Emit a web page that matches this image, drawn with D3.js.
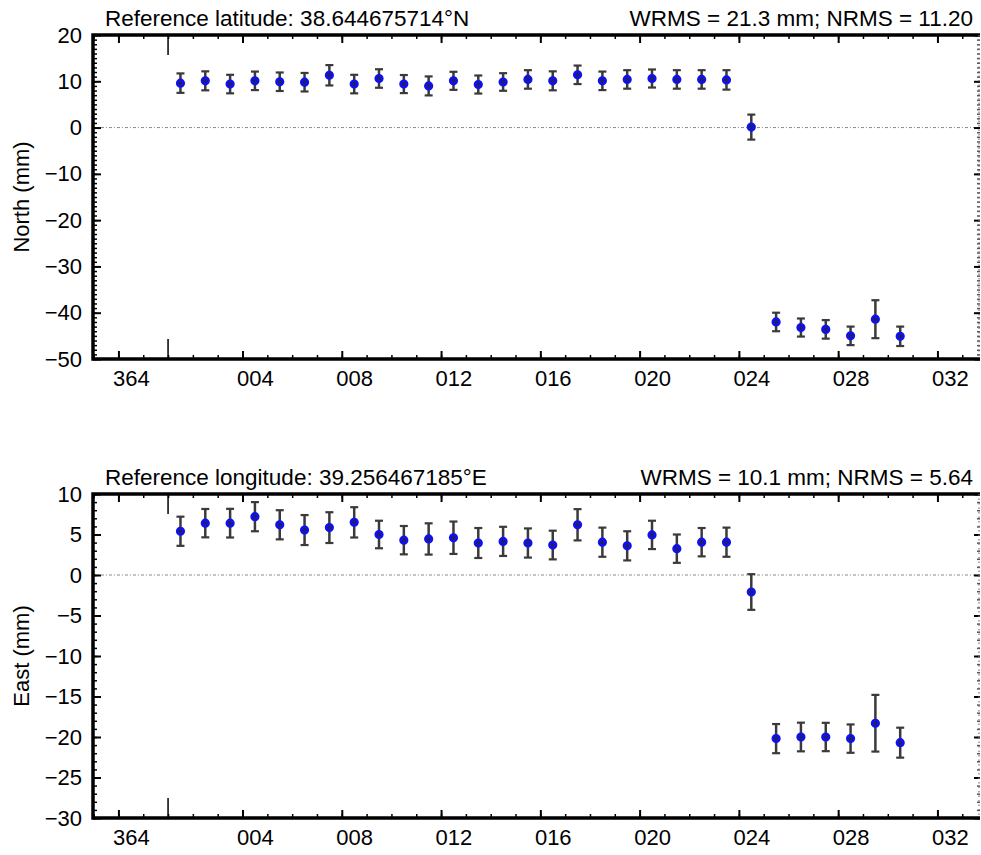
<!DOCTYPE html>
<html>
<head>
<meta charset="utf-8">
<script src="https://cdn.jsdelivr.net/npm/d3@7"></script>
<style>
  body { margin: 0; background: #fff; }
  svg { display: block; font-family: "Liberation Sans", Arial, Helvetica, sans-serif; }
</style>
</head>
<body>
<div id="chart"></div>
<script>
// observation epochs (noon of each day, Jan 2024)
let days = ["2024-01-01", "2024-01-02", "2024-01-03", "2024-01-04", "2024-01-05", "2024-01-06",
  "2024-01-07", "2024-01-08", "2024-01-09", "2024-01-10", "2024-01-11", "2024-01-12",
  "2024-01-13", "2024-01-14", "2024-01-15", "2024-01-16", "2024-01-17", "2024-01-18",
  "2024-01-19", "2024-01-20", "2024-01-21", "2024-01-22", "2024-01-23", "2024-01-24",
  "2024-01-25", "2024-01-26", "2024-01-27", "2024-01-28", "2024-01-29", "2024-01-30"];

// north component (mm) and 1-sigma
let north = [9.6, 10.1, 9.4, 10.1, 9.9, 9.8, 11.3, 9.4, 10.6, 9.4, 9.0, 10.1, 9.3, 9.85, 10.4,
  10.1, 11.4, 10.1, 10.4, 10.6, 10.4, 10.4, 10.3, 0.1, -42.0, -43.2, -43.6, -45.0, -41.4, -45.1];
let northErr = [2.1, 2.05, 2.0, 2.0, 2.0, 2.0, 2.2, 2.0, 2.0, 1.95, 2.05, 1.95, 1.95, 1.9, 2.0,
  2.05, 2.0, 2.0, 2.0, 1.95, 2.0, 2.0, 2.1, 2.7, 2.0, 1.95, 2.0, 2.0, 4.1, 2.1];

// east component (mm) and 1-sigma
let east = [5.4, 6.4, 6.4, 7.2, 6.2, 5.55, 5.85, 6.5, 5.0, 4.3, 4.45, 4.6, 3.95, 4.15, 3.95,
  3.7, 6.2, 4.05, 3.6, 4.95, 3.25, 4.05, 4.05, -2.1, -20.2, -20.0, -20.0, -20.2, -18.3, -20.7];
let eastErr = [1.8, 1.75, 1.77, 1.8, 1.8, 1.85, 1.9, 1.87, 1.7, 1.75, 1.93, 2.0, 1.85, 1.8, 1.8,
  1.77, 1.93, 1.8, 1.8, 1.75, 1.75, 1.75, 1.8, 2.2, 1.8, 1.77, 1.75, 1.75, 3.5, 1.85];

// text
let titlesLeft = ["Reference latitude: 38.644675714\u00B0N", "Reference longitude: 39.256467185\u00B0E"];
let titlesRight = ["WRMS = 21.3 mm; NRMS = 11.20", "WRMS = 10.1 mm; NRMS = 5.64"];
let yLabels = ["North (mm)", "East (mm)"];
let yDomains = [[-50, 20], [-30, 10]];
let yMajor = [10, 5];
let yMinor = [1, 1];

// layout
let WIDTH = 981, HEIGHT = 855;
let LEFT = 93, RIGHT = 980;
let PANEL_TOP = [35, 494];
let PANEL_H = 324;
let FONT = 22;

const svg = d3.select("#chart").append("svg")
  .attr("width", WIDTH)
  .attr("height", HEIGHT);

const parse = d3.utcParse("%Y-%m-%d");
const epochs = days.map(d => d3.utcHour.offset(parse(d), 12));

const xScale = d3.scaleUtc()
  .domain([new Date(Date.UTC(2023, 11, 28, 23, 25)), new Date(Date.UTC(2024, 1, 2, 17, 10))])
  .range([LEFT, RIGHT]);

const allDays = d3.utcDay.range(xScale.domain()[0], xScale.domain()[1]);
const majorDays = allDays.filter(d => +d3.utcFormat("%j")(d) % 4 === 0);
const yearStart = [new Date(Date.UTC(2024, 0, 1))];
// day labels sit in the middle of their day
const halfDay = xScale(d3.utcHour.offset(yearStart[0], 12)) - xScale(yearStart[0]);

function drawPanel(i, vals, errs) {
  const top = PANEL_TOP[i];
  const bottom = top + PANEL_H;
  const g = svg.append("g");

  const yScale = d3.scaleLinear().domain(yDomains[i]).range([bottom, top]);
  const yMaj = d3.range(yDomains[i][0], yDomains[i][1] + 0.001, yMajor[i]);
  const yMin = d3.range(yDomains[i][0], yDomains[i][1] + 0.001, yMinor[i]);

  // zero line
  g.append("line")
    .attr("x1", LEFT).attr("x2", RIGHT)
    .attr("y1", yScale(0)).attr("y2", yScale(0))
    .attr("stroke", "#8a8a8a").attr("stroke-width", 1)
    .attr("stroke-dasharray", "3,2,1,2");

  // x ticks, bottom and top, pointing inward
  [bottom, top].forEach((yPos, k) => {
    const mk = () => k === 0 ? d3.axisBottom(xScale) : d3.axisTop(xScale);

    const minor = g.append("g").attr("transform", `translate(0,${yPos})`)
      .call(mk().tickValues(allDays).tickSize(-4).tickFormat(""));
    minor.select(".domain").remove();
    minor.selectAll("line").attr("stroke-width", 1.5);

    const major = g.append("g").attr("transform", `translate(0,${yPos})`)
      .call(mk().tickValues(majorDays).tickSize(-8).tickPadding(11)
        .tickFormat(k === 0 ? d3.utcFormat("%j") : ""));
    major.select(".domain").remove();
    major.selectAll("line").attr("stroke-width", 2);
    major.selectAll("text").attr("font-size", FONT).attr("fill", "#000").attr("x", halfDay);

    // year boundary marker
    g.append("g").selectAll("line").data(yearStart).join("line")
      .attr("x1", d => xScale(d)).attr("x2", d => xScale(d))
      .attr("y1", yPos).attr("y2", k === 0 ? yPos - 20 : yPos + 20)
      .attr("stroke", "#000").attr("stroke-width", 1.5);
  });

  // y ticks, left and right, pointing inward
  const yl = g.append("g").attr("transform", `translate(${LEFT},0)`)
    .call(d3.axisLeft(yScale).tickValues(yMin).tickSize(-4).tickFormat(""));
  yl.select(".domain").remove();
  yl.selectAll("line").attr("stroke-width", 1.5);

  const ylMaj = g.append("g").attr("transform", `translate(${LEFT},0)`)
    .call(d3.axisLeft(yScale).tickValues(yMaj).tickSize(-8).tickPadding(11)
      .tickFormat(d => d < 0 ? "\u2212" + Math.abs(d) : d));
  ylMaj.select(".domain").remove();
  ylMaj.selectAll("line").attr("stroke-width", 2);
  ylMaj.selectAll("text").attr("font-size", FONT).attr("fill", "#000");

  const yr = g.append("g").attr("transform", `translate(${RIGHT},0)`)
    .call(d3.axisRight(yScale).tickValues(yMin).tickSize(-3).tickFormat(""));
  yr.select(".domain").remove();
  yr.selectAll("line").attr("stroke", "#555").attr("stroke-width", 1.5);
  const yrMaj = g.append("g").attr("transform", `translate(${RIGHT},0)`)
    .call(d3.axisRight(yScale).tickValues(yMaj).tickSize(-6).tickFormat(""));
  yrMaj.select(".domain").remove();
  yrMaj.selectAll("line").attr("stroke-width", 2);

  // frame: solid left/top/bottom, dotted right
  g.append("path")
    .attr("d", `M${RIGHT},${top}H${LEFT}V${bottom}H${RIGHT}`)
    .attr("fill", "none").attr("stroke", "#000").attr("stroke-width", 3.5);
  g.append("line")
    .attr("x1", RIGHT - 1).attr("x2", RIGHT - 1).attr("y1", top).attr("y2", bottom)
    .attr("stroke", "#777").attr("stroke-width", 1.2).attr("stroke-dasharray", "1.5,3");

  // error bars
  const bars = g.append("g").selectAll("g").data(vals).join("g");
  bars.append("line")
    .attr("x1", (d, j) => xScale(epochs[j])).attr("x2", (d, j) => xScale(epochs[j]))
    .attr("y1", (d, j) => yScale(d - errs[j])).attr("y2", (d, j) => yScale(d + errs[j]))
    .attr("stroke", "#3a3a3a").attr("stroke-width", 2.5);
  [-1, 1].forEach(s => {
    bars.append("line")
      .attr("x1", (d, j) => xScale(epochs[j]) - 4).attr("x2", (d, j) => xScale(epochs[j]) + 4)
      .attr("y1", (d, j) => yScale(d + s * errs[j])).attr("y2", (d, j) => yScale(d + s * errs[j]))
      .attr("stroke", "#3a3a3a").attr("stroke-width", 2.2);
  });

  // points
  g.append("g").selectAll("circle").data(vals).join("circle")
    .attr("cx", (d, j) => xScale(epochs[j]))
    .attr("cy", d => yScale(d))
    .attr("r", 3.3)
    .attr("fill", "#202060")
    .attr("stroke", "#1010f0")
    .attr("stroke-width", 2.6);

  // titles
  svg.append("text").attr("x", 105).attr("y", top - 9)
    .attr("font-size", FONT + 0.5).text(titlesLeft[i]);
  svg.append("text").attr("x", 973).attr("y", top - 9)
    .attr("text-anchor", "end").attr("font-size", FONT + 0.5).text(titlesRight[i]);

  svg.append("text")
    .attr("transform", `translate(29,${(top + bottom) / 2}) rotate(-90)`)
    .attr("text-anchor", "middle").attr("font-size", FONT)
    .text(yLabels[i]);
}

drawPanel(0, north, northErr);
drawPanel(1, east, eastErr);
</script>
</body>
</html>
